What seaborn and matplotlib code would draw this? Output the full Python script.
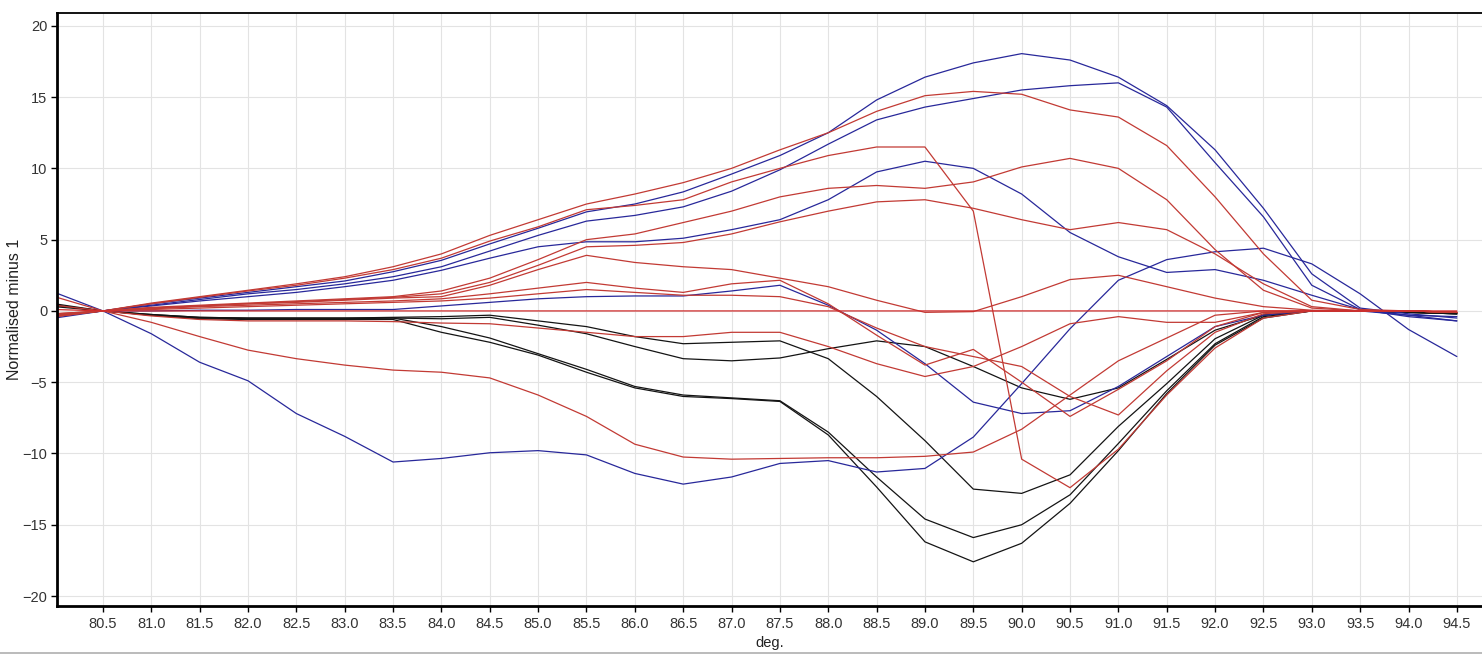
import numpy as np
import pandas as pd
import matplotlib
matplotlib.use("Agg")
import matplotlib.pyplot as plt
import seaborn as sns
from matplotlib.lines import Line2D

# Temperature axis (deg.), sampled every 0.5
deg = [80.0, 80.5, 81.0, 81.5, 82.0, 82.5, 83.0, 83.5, 84.0, 84.5,
       85.0, 85.5, 86.0, 86.5, 87.0, 87.5, 88.0, 88.5, 89.0, 89.5,
       90.0, 90.5, 91.0, 91.5, 92.0, 92.5, 93.0, 93.5, 94.0, 94.5]

# Blue curves
blue_1 = [-0.4, 0, 0.5, 0.9, 1.3, 1.7, 2.1, 2.75, 3.55, 4.7, 5.8, 6.95, 7.5, 8.35, 9.6,
          10.9, 12.5, 14.8, 16.4, 17.4, 18.05, 17.6, 16.4, 14.4, 11.3, 7.2, 2.6, 0.2, -0.2, -0.5]
blue_2 = [-0.3, 0, 0.4, 0.8, 1.2, 1.5, 1.9, 2.4, 3.1, 4.2, 5.3, 6.3, 6.7, 7.3, 8.4,
          9.9, 11.7, 13.4, 14.3, 14.9, 15.5, 15.8, 16.0, 14.3, 10.4, 6.6, 1.8, 0.1, -0.3, -0.7]
blue_3 = [-0.3, 0, 0.35, 0.7, 1.0, 1.3, 1.7, 2.15, 2.85, 3.7, 4.5, 4.85, 4.85, 5.1, 5.7,
          6.4, 7.8, 9.75, 10.5, 10.0, 8.2, 5.5, 3.8, 2.7, 2.9, 2.15, 1.1, 0.1, -0.4, -0.7]
blue_4 = [1.3, 0, -1.6, -3.6, -4.9, -7.2, -8.8, -10.6, -10.35, -9.95, -9.8, -10.1, -11.4, -12.15, -11.65,
          -10.7, -10.5, -11.3, -11.05, -8.85, -5.1, -1.25, 2.15, 3.6, 4.15, 4.4, 3.3, 1.2, -1.3, -3.2]
blue_5 = [-0.5, 0, 0.0, 0.05, 0.05, 0.1, 0.1, 0.1, 0.35, 0.6, 0.85, 1.0, 1.05, 1.05, 1.4,
          1.8, 0.4, -1.35, -3.7, -6.4, -7.2, -7.0, -5.3, -3.2, -1.1, -0.3, 0.0, 0.0, -0.3, -0.4]

# Black curves
black_1 = [0.4, 0, -0.25, -0.45, -0.5, -0.5, -0.5, -0.5, -0.55, -0.45, -1.0, -1.6, -2.5, -3.35, -3.5,
           -3.3, -2.65, -2.1, -2.5, -3.9, -5.4, -6.2, -5.4, -3.4, -1.35, -0.3, 0.0, 0.0, -0.1, -0.2]
black_2 = [0.3, 0, -0.25, -0.45, -0.5, -0.5, -0.5, -0.45, -0.4, -0.3, -0.7, -1.1, -1.8, -2.3, -2.2,
           -2.1, -3.35, -6.0, -9.1, -12.5, -12.8, -11.5, -8.1, -5.1, -1.95, -0.3, 0.0, 0.0, -0.1, -0.2]
black_3 = [0.4, 0, -0.3, -0.5, -0.55, -0.55, -0.55, -0.5, -1.1, -1.9, -3.0, -4.1, -5.3, -5.9, -6.1,
           -6.3, -8.5, -11.65, -14.6, -15.9, -15.0, -12.9, -9.3, -5.6, -2.3, -0.4, 0.0, 0.0, -0.1, -0.2]
black_4 = [0.5, 0, -0.3, -0.55, -0.6, -0.6, -0.6, -0.6, -1.5, -2.2, -3.1, -4.3, -5.4, -6.0, -6.15,
           -6.35, -8.7, -12.35, -16.2, -17.6, -16.3, -13.5, -9.8, -5.8, -2.4, -0.5, 0.0, 0.0, -0.1, -0.2]

# Red curves
red_1 = [-0.4, 0, 0.55, 1.0, 1.45, 1.9, 2.4, 3.1, 4.0, 5.3, 6.4, 7.5, 8.2, 9.0, 10.0,
         11.3, 12.5, 14.0, 15.1, 15.4, 15.2, 14.1, 13.6, 11.6, 8.0, 4.0, 0.75, 0.1, 0.0, -0.1]
red_2 = [-0.4, 0, 0.5, 0.95, 1.4, 1.8, 2.3, 2.9, 3.7, 4.9, 5.9, 7.1, 7.4, 7.8, 9.05,
         10.0, 10.9, 11.5, 11.5, 7.0, -10.4, -12.4, -9.7, -5.9, -2.6, -0.5, 0.0, 0.0, 0.0, -0.1]
red_3 = [-0.3, 0, 0.25, 0.4, 0.55, 0.7, 0.85, 1.0, 1.4, 2.3, 3.6, 5.0, 5.4, 6.2, 7.0,
         8.0, 8.6, 8.8, 8.6, 9.05, 10.1, 10.7, 10.0, 7.8, 4.3, 1.45, 0.2, 0.0, 0.0, -0.1]
red_4 = [-0.3, 0, 0.2, 0.35, 0.5, 0.65, 0.8, 0.95, 1.2, 2.0, 3.2, 4.5, 4.6, 4.8, 5.4,
         6.25, 7.0, 7.65, 7.8, 7.2, 6.4, 5.7, 6.2, 5.7, 4.0, 1.9, 0.3, 0.0, 0.0, -0.1]
red_5 = [-0.25, 0, 0.2, 0.35, 0.5, 0.6, 0.75, 0.9, 1.0, 1.8, 2.9, 3.9, 3.4, 3.1, 2.9,
         2.3, 1.7, 0.75, -0.1, -0.05, 1.0, 2.2, 2.5, 1.7, 0.9, 0.3, 0.05, 0.0, 0.0, -0.1]
red_6 = [-0.2, 0, 0.15, 0.3, 0.4, 0.5, 0.6, 0.7, 0.85, 1.2, 1.6, 2.0, 1.6, 1.3, 1.9,
         2.15, 0.5, -1.7, -3.8, -2.7, -5.0, -7.4, -5.5, -3.5, -1.1, -0.1, 0.0, 0.0, 0.0, -0.1]
red_7 = [0.4, 0, -0.35, -0.6, -0.7, -0.7, -0.7, -0.75, -0.85, -0.9, -1.2, -1.5, -1.8, -1.8, -1.5,
         -1.5, -2.5, -3.7, -4.6, -3.9, -2.5, -0.9, -0.4, -0.8, -0.8, -0.1, 0.0, 0.0, 0.0, -0.1]
red_8 = [1.0, 0, -0.8, -1.8, -2.75, -3.35, -3.8, -4.15, -4.3, -4.7, -5.9, -7.4, -9.35, -10.25, -10.4,
         -10.35, -10.3, -10.3, -10.2, -9.9, -8.3, -5.9, -3.5, -1.9, -0.3, 0.0, 0.0, 0.0, 0.0, -0.1]
red_9 = [-0.2, 0, 0.1, 0.2, 0.3, 0.4, 0.5, 0.6, 0.7, 0.9, 1.2, 1.5, 1.3, 1.1, 1.1,
         1.0, 0.3, -1.2, -2.5, -3.2, -3.9, -6.0, -7.3, -4.2, -1.5, -0.2, 0.0, 0.0, 0.0, -0.1]
red_flat = [0.1, 0, 0, 0, 0, 0, 0, 0, 0, 0, 0, 0, 0, 0, 0,
            0, 0, 0, 0, 0, 0, 0, 0, 0, 0, 0, 0, 0, 0, 0]

BLUE = "#28289a"
RED = "#c23a34"
BLACK = "#141414"

curves = [
    ("black_1", black_1, BLACK), ("black_2", black_2, BLACK),
    ("black_3", black_3, BLACK), ("black_4", black_4, BLACK),
    ("blue_1", blue_1, BLUE), ("blue_2", blue_2, BLUE), ("blue_3", blue_3, BLUE),
    ("blue_4", blue_4, BLUE), ("blue_5", blue_5, BLUE),
    ("red_1", red_1, RED), ("red_2", red_2, RED), ("red_3", red_3, RED),
    ("red_4", red_4, RED), ("red_5", red_5, RED), ("red_6", red_6, RED),
    ("red_7", red_7, RED), ("red_8", red_8, RED), ("red_9", red_9, RED),
    ("red_flat", red_flat, "#d02c2c"),
]

frames = [pd.DataFrame({"deg": deg, "value": vals, "curve": name})
          for name, vals, _ in curves]
df = pd.concat(frames, ignore_index=True)
palette = {name: col for name, _, col in curves}
order = [name for name, _, _ in curves]

sns.set_theme(style="whitegrid")
plt.rcParams["font.family"] = ["Liberation Sans", "DejaVu Sans"]

W, H = 1482, 654
fig = plt.figure(figsize=(W / 100, H / 100), dpi=100)
fig.patch.set_facecolor("white")
ax = fig.add_axes([57 / W, 48 / H, (W - 57) / W, (606 - 13) / H])

sns.lineplot(data=df, x="deg", y="value", hue="curve", hue_order=order,
             palette=palette, estimator=None, sort=False, legend=False,
             linewidth=0.9, ax=ax)

ax.set_xlim(80.025, 94.76)
ax.set_ylim(-20.7, 20.9)
xt = np.arange(80.5, 94.51, 0.5)
ax.set_xticks(xt)
ax.set_xticklabels([f"{t:.1f}" for t in xt])
ax.set_yticks(np.arange(-20, 21, 5))

ax.set_facecolor("white")
ax.grid(True, color="#e3e3e3", linewidth=0.8)
ax.set_axisbelow(True)
for side in ("left", "bottom"):
    ax.spines[side].set_color("black")
    ax.spines[side].set_linewidth(2.0)
ax.spines["top"].set_color("black")
ax.spines["top"].set_linewidth(1.3)
ax.spines["right"].set_visible(False)

ax.tick_params(axis="both", which="major", bottom=True, left=True,
               direction="out", length=4, width=1, color="black",
               labelsize=10.5, labelcolor="#333333")
ax.tick_params(axis="x", pad=4)
ax.tick_params(axis="y", pad=3)

ax.set_xlabel("deg.", fontsize=10.5, color="#222222")
ax.set_ylabel("Normalised minus 1", fontsize=11.5, color="#222222")
ax.xaxis.set_label_coords(0.5, -0.05)
ax.yaxis.set_label_coords(-0.0245, 0.5)

fig.add_artist(Line2D([0, 1], [1.5 / H, 1.5 / H], color="#b5b5b5", linewidth=1.3))

fig.savefig("out.png", dpi=100, facecolor="white")
